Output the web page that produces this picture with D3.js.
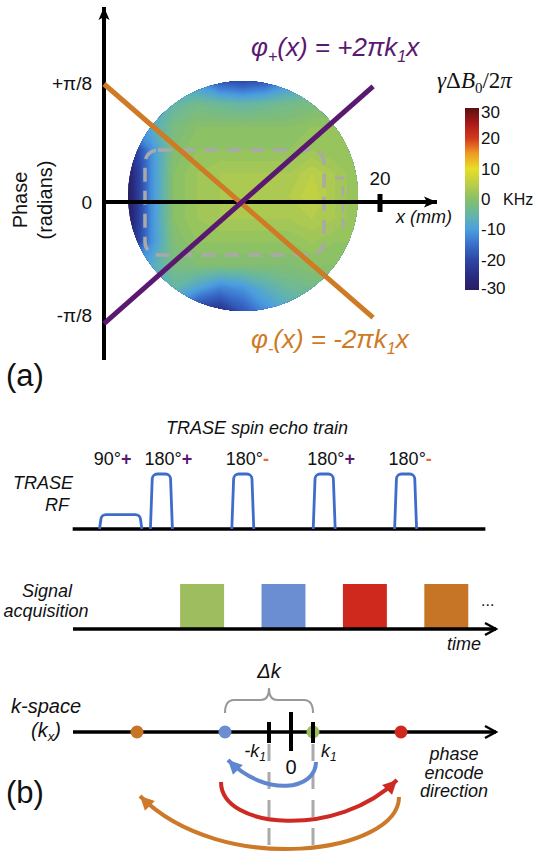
<!DOCTYPE html>
<html><head><meta charset="utf-8">
<script src="https://cdn.jsdelivr.net/npm/d3@7"></script>
<style>
body{margin:0;background:#fff}
svg{display:block}
text{font-family:"Liberation Sans",Arial,Helvetica,sans-serif;fill:#111}
</style>
</head><body>
<svg id="c" width="534" height="853"></svg>
<script>
// ================= DATA =================
// (a) B0 field map, kHz, 11 x 11 samples (rows top -> bottom)
const fieldGrid = [
  [ -8, -8, -8,-12,-18,-20,-18,-12, -8, -6, -5],
  [ -8, -8, -5, -3, -4, -5, -4, -3, -2, -1, -1],
  [-14, -8, -2,  0,  0,  0,  0,  0,  1,  1,  0],
  [-26,-12, -1,  1,  1,  1,  1,  1,  2,  1,  1],
  [-29,-12,  0,  2,  3,  3,  3,  3,  5,  3,  1],
  [-30,-12,  0,  2,  3,  3,  3,  4,  6,  3,  1],
  [-30,-12,  0,  2,  3,  3,  3,  3,  4,  3,  1],
  [-28,-12, -1,  1,  1,  1,  1,  1,  2,  1,  1],
  [-14, -8, -2, -1, -1, -1, -1, -1,  0,  0,  0],
  [ -8, -8, -5, -9,-13,-11, -7, -4, -3, -2, -2],
  [-10,-10,-14,-22,-24,-18,-12, -8, -6, -5, -5]
];
const colorStops  = [-30,-25,-20,-15,-10,-5,0,5,10,15,20,25,30];
const colorValues = ["#2a1d60","#2a2d84","#2d47a4","#3a6ecb","#4c9fe0","#66b6a6","#88bf68","#bccf48","#e6de24","#f09a24","#d23a1e","#a81818","#5a1010"];
const colorbarTicks = [30,20,10,0,-10,-20,-30];
const phaseTicks = [1, 0, -1];                 // units of pi/8
const phaseTickLabels = ["+\u03c0/8", "0", "-\u03c0/8"];
const xTicks = [20];                            // mm
const phasePlusX  = [-20, 19];  const phasePlusY  = [-1.03, 0.98];
const phaseMinusX = [-20, 19];  const phaseMinusY = [ 1.0, -0.98];

// (b) pulse sequence (time in echo-spacing units)
const pulseTimes  = [0.5, 1, 2, 3, 4];
const pulseWidths = [0.52, 0.27, 0.27, 0.27, 0.27];
const pulseAmps   = [0.26, 1, 1, 1, 1];
const pulseAngles = ["90\u00b0", "180\u00b0", "180\u00b0", "180\u00b0", "180\u00b0"];
const pulseSigns  = ["+", "+", "-", "+", "-"];
const acqTimes  = [1.5, 2.5, 3.5, 4.5];
const acqColors = ["#9ebd5e", "#6b8ed3", "#cf291e", "#c67426"];
const kDots   = [1, -3, 5, -7];                 // units of k1
const kTicks  = [-1, 0, 1];
const kJumps  = [[1, -3], [-3, 5], [5, -7]];
const jumpColors = ["#5f86cf", "#cc2a22", "#cc7a2a"];

// ================= DRAW =================
const svg = d3.select("#c");
svg.append("rect").attr("width",534).attr("height",853).attr("fill","#fff");
const defs = svg.append("defs");
const purple = "#5a1870", orange = "#cf7a24";

function marker(id, d, color, w, h, filled, sw){
  const m = defs.append("marker").attr("id",id).attr("markerUnits","userSpaceOnUse")
    .attr("markerWidth",w+4).attr("markerHeight",h+4).attr("viewBox",`-2 -2 ${w+4} ${h+4}`)
    .attr("refX",w).attr("refY",h/2).attr("orient","auto");
  m.append("path").attr("d",d).attr("fill",filled?color:"none").attr("stroke",filled?"none":color)
    .attr("stroke-width",sw||0).attr("stroke-linejoin","miter");
}
marker("axA","M0,0 L13,5.5 L0,11 L3,5.5 Z","#000",13,11,true);
marker("chev","M1,0 L12,6 L1,12","#000",12,12,false,2.5);
jumpColors.forEach((c,i)=>marker("jh"+i,"M0,0 L14,7 L0,14 Z",c,14,14,true));

// ---------- (a) ----------
const xS = d3.scaleLinear().domain([-20,20]).range([104,380]);
const yS = d3.scaleLinear().domain([-1,1]).range([320,84]);
const colormap = d3.scaleLinear().domain(colorStops).range(colorValues).interpolate(d3.interpolateRgb);

// field map
const mapCx = 243, mapCy = 196, mapR = 115, step = 23;
const col0 = mapCx - 5*step, row0 = mapCy - 5*step;
defs.append("clipPath").attr("id","disc").append("circle").attr("cx",mapCx).attr("cy",mapCy).attr("r",mapR);
const nR = fieldGrid.length, nC = fieldGrid[0].length;
const contours = d3.contours().size([nC,nR]).thresholds(d3.range(-31,31,1))(fieldGrid.flat());
const proj = d3.geoIdentity().scale(step).translate([col0-0.5*step, row0-0.5*step]);
const gp = d3.geoPath(proj);
svg.append("g").attr("clip-path","url(#disc)").selectAll("path").data(contours).join("path")
  .attr("d",gp).attr("fill",d=>colormap(d.value+0.5)).attr("stroke",d=>colormap(d.value+0.5)).attr("stroke-width",0.6);

// dashed ROI
svg.append("rect").attr("x",145).attr("y",150).attr("width",179).attr("height",105).attr("rx",13)
  .attr("fill","none").attr("stroke","#a9a9a9").attr("stroke-width",3.5).attr("stroke-dasharray","14,9");
svg.append("path").attr("d","M335,178 L343,178 L343,227 L335,227").attr("fill","none")
  .attr("stroke","#a9a9a9").attr("stroke-width",2.5).attr("stroke-dasharray","10,6");

// axes
svg.append("line").attr("x1",xS(-20)).attr("y1",360).attr("x2",xS(-20)).attr("y2",7)
  .attr("stroke","#000").attr("stroke-width",4).attr("marker-end","url(#axA)");
svg.append("line").attr("x1",xS(-20)).attr("y1",yS(0)).attr("x2",437).attr("y2",yS(0))
  .attr("stroke","#000").attr("stroke-width",4).attr("marker-end","url(#axA)");
xTicks.forEach(t=>{
  svg.append("rect").attr("x",xS(t)-2.5).attr("y",yS(0)-8).attr("width",5).attr("height",18).attr("fill","#000");
  svg.append("text").attr("x",xS(t)).attr("y",185).attr("text-anchor","middle").attr("font-size",19).text(t);
});
phaseTicks.forEach((p,i)=>{
  svg.append("text").attr("x",92).attr("y",yS(p)+(p>0?-1:p<0?-5:0)).attr("dy","0.35em").attr("text-anchor","end")
    .attr("font-size",19).text(phaseTickLabels[i]);
});
svg.append("text").attr("transform","translate(27,200) rotate(-90)").attr("text-anchor","middle").attr("font-size",20).text("Phase");
svg.append("text").attr("transform","translate(52,200) rotate(-90)").attr("text-anchor","middle").attr("font-size",20).text("(radians)");
svg.append("text").attr("x",396).attr("y",223).attr("font-size",18).attr("font-style","italic").text("x (mm)");

// phase lines
const ln = d3.line().x(d=>xS(d[0])).y(d=>yS(d[1]));
svg.append("path").attr("d",ln(d3.zip(phaseMinusX,phaseMinusY))).attr("stroke",orange).attr("stroke-width",5).attr("fill","none");
svg.append("path").attr("d",ln(d3.zip(phasePlusX,phasePlusY))).attr("stroke",purple).attr("stroke-width",5).attr("fill","none");

function phiLabel(x,y,sub,sign,color){
  const t = svg.append("text").attr("x",x).attr("y",y).attr("font-size",26).attr("font-style","italic").attr("fill",color).style("fill",color);
  t.append("tspan").text("\u03c6");
  t.append("tspan").attr("font-size",16).attr("dy",6).text(sub);
  t.append("tspan").attr("dy",-6).text("(x) = "+sign+"2\u03c0k");
  t.append("tspan").attr("font-size",16).attr("dy",6).text("1");
  t.append("tspan").attr("dy",-6).text("x");
}
phiLabel(251,56,"+","+",purple);
phiLabel(251,348,"-","-",orange);
svg.append("text").attr("x",6).attr("y",386).attr("font-size",31).text("(a)");

// colorbar
const cbS = d3.scaleLinear().domain([-30,30]).range([290,108]);
const grad = defs.append("linearGradient").attr("id","cb").attr("x1",0).attr("y1",1).attr("x2",0).attr("y2",0);
colorStops.forEach((v,i)=>grad.append("stop").attr("offset",(v+30)/60).attr("stop-color",colorValues[i]));
svg.append("rect").attr("x",465).attr("y",cbS(30)).attr("width",14).attr("height",cbS(-30)-cbS(30)).attr("fill","url(#cb)");
colorbarTicks.forEach(v=>{
  svg.append("text").attr("x",481).attr("y",cbS(v)+ (v===30?4:v===-30?-2:0)).attr("dy","0.35em").attr("font-size",17).text(v);
});
svg.append("text").attr("x",503).attr("y",cbS(0)).attr("dy","0.35em").attr("font-size",16).text("KHz");
const ttl = svg.append("text").attr("x",437).attr("y",88).attr("font-size",23).style("font-family","'Liberation Serif','DejaVu Serif',serif");
ttl.append("tspan").attr("font-style","italic").text("\u03b3");
ttl.append("tspan").text("\u0394");
ttl.append("tspan").attr("font-style","italic").text("B");
ttl.append("tspan").attr("font-size",15).attr("dy",5).text("0");
ttl.append("tspan").attr("dy",-5).text("/2");
ttl.append("tspan").attr("font-style","italic").text("\u03c0");

// ---------- (b) ----------
const tS = d3.scaleLinear().domain([0,5]).range([80,487]);
const aS = d3.scaleLinear().domain([0,1]).range([529,474]);
const rfBase = aS(0);
svg.append("text").attr("x",257).attr("y",434).attr("text-anchor","middle").attr("font-size",18).attr("font-style","italic").text("TRASE spin echo train");
svg.append("text").attr("x",73).attr("y",489).attr("text-anchor","end").attr("font-size",18).attr("font-style","italic").text("TRASE");
svg.append("text").attr("x",69).attr("y",511).attr("text-anchor","end").attr("font-size",18).attr("font-style","italic").text("RF");

svg.append("line").attr("x1",tS(-0.09)).attr("x2",tS(4.98)).attr("y1",rfBase).attr("y2",rfBase).attr("stroke","#000").attr("stroke-width",3.5);
pulseTimes.forEach((t,i)=>{
  const x0 = tS(t-pulseWidths[i]/2), x1 = tS(t+pulseWidths[i]/2), yt = aS(pulseAmps[i]);
  const p = d3.path();
  p.moveTo(x0,rfBase); p.arcTo(x0+2,yt,x1,yt,5); p.arcTo(x1-2,yt,x1,rfBase,5); p.lineTo(x1,rfBase);
  svg.append("path").attr("d",p.toString()).attr("fill","none").attr("stroke","#3d6cc9").attr("stroke-width",2.8);
  const lx = tS(t) + (i===0 ? -10 : 0);
  const tx = svg.append("text").attr("x",lx-17).attr("y",465).attr("font-size",18);
  tx.append("tspan").text(pulseAngles[i]);
  if(pulseSigns[i]==="+") tx.append("tspan").attr("font-weight","bold").style("fill",purple).text("+");
  else tx.append("tspan").attr("font-weight","bold").style("fill","#ea6a2c").text("-");
});
svg.append("text").attr("x",47).attr("y",597).attr("text-anchor","middle").attr("font-size",18).attr("font-style","italic").text("Signal");
svg.append("text").attr("x",46).attr("y",617).attr("text-anchor","middle").attr("font-size",18).attr("font-style","italic").text("acquisition");
const acqBase = 629;
acqTimes.forEach((t,i)=>{
  svg.append("rect").attr("x",tS(t-0.27)).attr("y",584).attr("width",tS(0.54)-tS(0)).attr("height",acqBase-584).attr("fill",acqColors[i]);
});
svg.append("line").attr("x1",73).attr("x2",496).attr("y1",acqBase).attr("y2",acqBase).attr("stroke","#000").attr("stroke-width",3.5).attr("marker-end","url(#chev)");
svg.append("text").attr("x",481).attr("y",606).attr("font-size",16).attr("fill","#333").text("...");
svg.append("text").attr("x",481).attr("y",650).attr("text-anchor","end").attr("font-size",18).attr("font-style","italic").text("time");

// k-space
const kS = d3.scaleLinear().domain([0,1]).range([291,313]);
const kY = 732;
svg.append("text").attr("x",46).attr("y",713).attr("text-anchor","middle").attr("font-size",20).attr("font-style","italic").text("k-space");
const kx = svg.append("text").attr("x",46).attr("y",737).attr("text-anchor","middle").attr("font-size",20).attr("font-style","italic");
kx.append("tspan").text("(k"); kx.append("tspan").attr("font-size",13).attr("dy",4).text("x"); kx.append("tspan").attr("dy",-4).text(")");

[-1,1].forEach(k=>svg.append("line").attr("x1",kS(k)).attr("x2",kS(k)).attr("y1",744).attr("y2",853)
  .attr("stroke","#aaa").attr("stroke-width",3).attr("stroke-dasharray","17,11"));

svg.append("line").attr("x1",73).attr("x2",496).attr("y1",kY).attr("y2",kY).attr("stroke","#000").attr("stroke-width",3.5).attr("marker-end","url(#chev)");
{
  const x0 = kS(-3), x1 = kS(1), xc = (x0+x1)/2, yb = 700;
  const p = `M${x0},713 Q${x0},${yb} ${x0+9},${yb} L${xc-8},${yb} Q${xc},${yb} ${xc},688 Q${xc},${yb} ${xc+8},${yb} L${x1-9},${yb} Q${x1},${yb} ${x1},713`;
  svg.append("path").attr("d",p).attr("fill","none").attr("stroke","#999").attr("stroke-width",2);
  svg.append("text").attr("x",xc).attr("y",678).attr("text-anchor","middle").attr("font-size",20).attr("font-style","italic").text("\u0394k");
}
kDots.forEach((k,i)=>svg.append("circle").attr("cx",kS(k)).attr("cy",kY).attr("r",6.5).attr("fill",acqColors[i]));
kTicks.forEach(k=>{
  const h = k===0 ? [712,751] : [722,743];
  svg.append("rect").attr("x",kS(k)-2).attr("y",h[0]).attr("width",4).attr("height",h[1]-h[0]).attr("fill","#000");
});
{
  const t1 = svg.append("text").attr("x",kS(-1)-3).attr("y",757).attr("text-anchor","end").attr("font-size",18).attr("font-style","italic");
  t1.append("tspan").text("-k"); t1.append("tspan").attr("font-size",12).attr("dy",4).text("1");
  const t2 = svg.append("text").attr("x",kS(1)+8).attr("y",757).attr("font-size",18).attr("font-style","italic");
  t2.append("tspan").text("k"); t2.append("tspan").attr("font-size",12).attr("dy",4).text("1");
  svg.append("text").attr("x",kS(0)).attr("y",774).attr("text-anchor","middle").attr("font-size",20).text("0");
}
["phase","encode","direction"].forEach((s,i)=>svg.append("text").attr("x",454).attr("y",760+i*18.5)
  .attr("text-anchor","middle").attr("font-size",18).attr("font-style","italic").text(s));
svg.append("text").attr("x",6).attr("y",803).attr("font-size",31).text("(b)");

const jumpGeo = [ {y0:762,y1:758,d:28,a:40}, {y0:782,y1:778,d:48,a:60}, {y0:797,y1:794,d:56,a:85} ];
kJumps.forEach((j,i)=>{
  const g = jumpGeo[i];
  const xa = kS(j[0]) + (i===0?3:i===1?-4:-2), xb = kS(j[1]) + (j[1]<j[0]? 1 : -2);
  const s = xb < xa ? 1 : -1;
  const p = d3.path();
  p.moveTo(xa,g.y0);
  p.bezierCurveTo(xa, g.y0+g.d, xb + s*g.a, g.y1+g.a, xb + s*2, g.y1+2);
  svg.append("path").attr("d",p.toString()).attr("fill","none").attr("stroke",jumpColors[i])
    .attr("stroke-width",4).attr("marker-end",`url(#jh${i})`);
});
</script>
</body></html>
